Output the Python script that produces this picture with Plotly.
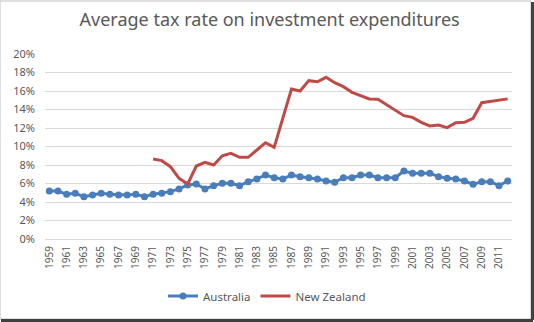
import plotly.graph_objects as go

# Years shown on the category axis
years = list(range(1959, 2013))
year_labels = [str(y) for y in years]

# Average tax rate on investment expenditures (%)
australia = [5.19, 5.19, 4.83, 4.94, 4.58, 4.76, 4.94, 4.83, 4.76, 4.76,
             4.83, 4.58, 4.83, 4.94, 5.12, 5.41, 5.84, 5.95, 5.41, 5.77,
             6.02, 6.02, 5.77, 6.20, 6.49, 6.92, 6.63, 6.49, 6.92, 6.74,
             6.63, 6.49, 6.27, 6.13, 6.63, 6.63, 6.92, 6.92, 6.63, 6.63,
             6.63, 7.35, 7.10, 7.10, 7.10, 6.74, 6.56, 6.49, 6.27, 5.91,
             6.20, 6.20, 5.77, 6.27]

# New Zealand series starts in 1971
nz_years = list(range(1971, 2013))
new_zealand = [8.65, 8.47, 7.82, 6.56, 5.95, 7.89, 8.29, 8.00, 9.00, 9.26,
               8.83, 8.83, 9.62, 10.41, 9.91, 13.05, 16.22, 16.00, 17.12, 17.00,
               17.48, 16.90, 16.47, 15.86, 15.46, 15.14, 15.10, 14.49, 13.95, 13.33,
               13.15, 12.61, 12.22, 12.32, 12.04, 12.58, 12.61, 13.05, 14.74, 14.85,
               15.00, 15.15]

y_ticks = [0, 2, 4, 6, 8, 10, 12, 14, 16, 18, 20]
x_ticks = [str(y) for y in range(1959, 2013, 2)]

blue = "#4A7EBB"
red = "#BE4B48"
grid = "#D9D9D9"
text = "#595959"
font = "Noto Sans"

fig = go.Figure()
fig.add_trace(go.Scatter(
    x=year_labels, y=[v / 100 for v in australia], name="Australia",
    mode="lines+markers",
    line=dict(color=blue, width=3),
    marker=dict(color=blue, size=7, symbol="circle"),
))
fig.add_trace(go.Scatter(
    x=[str(y) for y in nz_years], y=[v / 100 for v in new_zealand],
    name="New Zealand", mode="lines",
    line=dict(color=red, width=3),
))

fig.update_layout(
    width=534, height=322,
    margin=dict(l=45, r=22, t=54, b=83),
    paper_bgcolor="white", plot_bgcolor="white",
    font=dict(family=font, color=text, size=10),
    title=dict(text="Average tax rate on investment expenditures",
               x=0.505, xref="container", xanchor="center",
               y=1 - 20 / 322, yref="container", yanchor="middle",
               font=dict(family=font, size=18, color=text)),
    legend=dict(orientation="h", x=0.5, xref="container", xanchor="center",
                y=1 - 296 / 322, yref="container", yanchor="middle",
                font=dict(family=font, size=11.5, color=text),
                itemwidth=30, tracegroupgap=0),
    showlegend=True,
)

fig.update_xaxes(
    type="category", categoryorder="array", categoryarray=year_labels,
    range=[-0.5, len(years) - 0.5],
    tickmode="array", tickvals=x_ticks, ticktext=x_ticks,
    tickangle=-90, tickfont=dict(size=10, color=text),
    ticklabelstandoff=2,
    showgrid=False, showline=True, linecolor=grid, linewidth=1,
    ticks="", zeroline=False,
)
fig.update_yaxes(
    range=[0, 0.2], tickmode="array",
    tickvals=[v / 100 for v in y_ticks],
    ticktext=[f"{v}%" for v in y_ticks],
    tickfont=dict(size=11, color=text),
    ticklabelstandoff=9,
    showgrid=True, gridcolor=grid, gridwidth=1,
    zeroline=False, showline=False, ticks="", ticklen=0,
)

# Chart frame with a dark drop shadow on the right and bottom edges
fig.add_shape(type="rect", xref="paper", yref="paper",
              x0=-45 / 467, x1=1 + 19 / 467, y0=-80 / 185, y1=1 + 53 / 185,
              line=dict(color="#BFBFBF", width=1), layer="below")
fig.add_shape(type="line", xref="paper", yref="paper",
              x0=1 + 20.5 / 467, x1=1 + 20.5 / 467, y0=-81 / 185, y1=1 + 52 / 185,
              line=dict(color="#404040", width=3))
fig.add_shape(type="line", xref="paper", yref="paper",
              x0=-44 / 467, x1=1 + 21 / 467, y0=-81.5 / 185, y1=-81.5 / 185,
              line=dict(color="#404040", width=3))

fig.write_html("out.html")
